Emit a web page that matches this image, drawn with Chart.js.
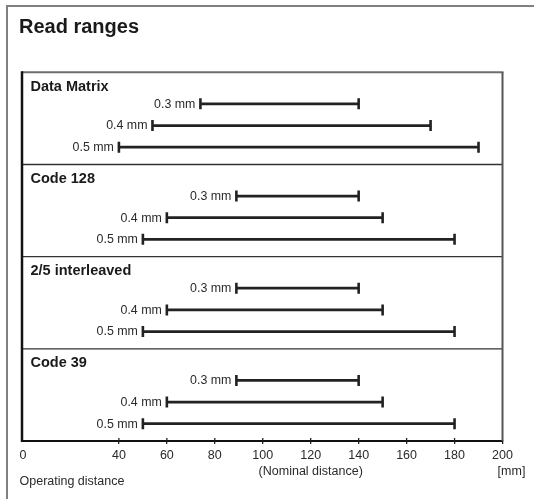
<!DOCTYPE html>
<html>
<head>
<meta charset="utf-8">
<script src="https://cdn.jsdelivr.net/npm/chart.js@4/dist/chart.umd.min.js"></script>
<style>
html,body{margin:0;padding:0;background:#fff;}
#wrap{position:relative;width:534px;height:499px;}
canvas{display:block;}
</style>
</head>
<body>
<div id="wrap"><canvas id="c" width="534" height="499" style="width:534px;height:499px"></canvas></div>
<script>
// ---- data ----
const chartTitle = 'Read ranges';
const codeNames = ['Data Matrix', 'Code 128', '2/5 interleaved', 'Code 39'];
const moduleSizes = ['0.3 mm', '0.4 mm', '0.5 mm'];
const dataMatrixMin = [74, 54, 40];
const dataMatrixMax = [140, 170, 190];
const code128Min = [89, 60, 50];
const code128Max = [140, 150, 180];
const interleaved25Min = [89, 60, 50];
const interleaved25Max = [140, 150, 180];
const code39Min = [89, 60, 50];
const code39Max = [140, 150, 180];
const xTickValues = [0, 40, 60, 80, 100, 120, 140, 160, 180, 200];
const xAxisCaption = 'Operating distance';
const xAxisNote = '(Nominal distance)';
const xAxisUnit = '[mm]';

const mins = [dataMatrixMin, code128Min, interleaved25Min, code39Min];
const maxs = [dataMatrixMax, code128Max, interleaved25Max, code39Max];

const FONT = '"Liberation Sans", Arial, Helvetica, sans-serif';
const INK = '#222';

// y layout: each code group occupies 4 units (title row + 3 ranges)
function rowY(group, row) { return group * 4 + 1.37 + row * 0.94; }
function titleY(group) { return group * 4 + 0.62; }

const datasets = [];
codeNames.forEach((name, g) => {
  moduleSizes.forEach((ms, r) => {
    datasets.push({
      label: name + ' ' + ms,
      sizeLabel: ms,
      data: [{x: mins[g][r], y: rowY(g, r)}, {x: maxs[g][r], y: rowY(g, r)}],
      borderColor: INK,
      borderWidth: 2.7,
      pointStyle: 'line',
      rotation: 90,
      pointRadius: 5.5,
      pointHoverRadius: 5.5,
      pointBorderWidth: 2.6,
      pointBorderColor: INK,
      pointBackgroundColor: INK,
      showLine: true,
      tension: 0
    });
  });
});

const decor = {
  id: 'decor',
  beforeDraw(chart) {
    const c = chart.ctx;
    c.save();
    c.fillStyle = '#fff';
    c.fillRect(0, 0, chart.width, chart.height);
    // outer frame (top + left)
    c.strokeStyle = '#808080';
    c.lineWidth = 2;
    c.beginPath();
    c.moveTo(7, 499); c.lineTo(7, 6); c.lineTo(534, 6);
    c.stroke();
    // title
    c.fillStyle = '#1a1a1a';
    c.font = 'bold 20px ' + FONT;
    c.textAlign = 'left';
    c.textBaseline = 'middle';
    c.fillText(chartTitle, 19, 27);
    c.restore();
  },
  beforeDatasetsDraw(chart) {
    const c = chart.ctx, a = chart.chartArea, y = chart.scales.y;
    c.save();
    c.strokeStyle = '#333';
    c.lineWidth = 1.3;
    for (let g = 1; g < codeNames.length; g++) {
      const py = y.getPixelForValue(g * 4);
      c.beginPath(); c.moveTo(a.left, py); c.lineTo(a.right, py); c.stroke();
    }
    c.restore();
  },
  afterDraw(chart) {
    const c = chart.ctx, a = chart.chartArea, x = chart.scales.x, y = chart.scales.y;
    c.save();
    // frame
    c.strokeStyle = '#6e6e6e';
    c.lineWidth = 2;
    c.beginPath(); c.moveTo(a.left - 1, a.top); c.lineTo(a.right + 1, a.top); c.stroke();
    c.strokeStyle = '#555';
    c.beginPath(); c.moveTo(a.right, a.top); c.lineTo(a.right, a.bottom); c.stroke();
    c.strokeStyle = '#111';
    c.lineWidth = 2.5;
    c.beginPath(); c.moveTo(a.left - 1, a.top - 1); c.lineTo(a.left - 1, a.bottom + 1); c.stroke();
    // tick marks crossing above axis
    c.lineWidth = 1.3;
    c.strokeStyle = INK;
    xTickValues.forEach(v => {
      if (v === 0 || v === 200) return;
      const px = x.getPixelForValue(v);
      c.beginPath(); c.moveTo(px, a.bottom - 3); c.lineTo(px, a.bottom); c.stroke();
    });
    // group titles
    c.fillStyle = '#1a1a1a';
    c.font = 'bold 14.5px ' + FONT;
    c.textAlign = 'left';
    c.textBaseline = 'middle';
    codeNames.forEach((n, g) => c.fillText(n, 30.5, y.getPixelForValue(titleY(g))));
    // range labels
    c.fillStyle = '#2a2a2a';
    c.font = '12.4px ' + FONT;
    c.textAlign = 'right';
    chart.data.datasets.forEach(ds => {
      const p = ds.data[0];
      c.fillText(ds.sizeLabel, x.getPixelForValue(p.x) - 5, y.getPixelForValue(p.y) + 0.5);
    });
    // axis captions
    c.font = '12.5px ' + FONT;
    c.fillStyle = '#2a2a2a';
    c.textAlign = 'left';
    c.fillText(xAxisCaption, 19.5, 482);
    c.textAlign = 'center';
    c.fillText(xAxisNote, x.getPixelForValue(120), 472);
    c.fillText(xAxisUnit, 511.5, 472);
    c.restore();
  }
};

new Chart(document.getElementById('c'), {
  type: 'scatter',
  data: { datasets },
  options: {
    responsive: false,
    animation: false,
    events: [],
    layout: { padding: { left: 23, right: 31.5, top: 72.3, bottom: 0 } },
    plugins: { legend: { display: false }, tooltip: { enabled: false }, title: { display: false } },
    scales: {
      x: {
        type: 'linear',
        min: 0, max: 200,
        afterBuildTicks: s => { s.ticks = xTickValues.map(v => ({ value: v })); },
        afterFit: s => { s.height = 58; },
        grid: {
          drawOnChartArea: false,
          drawTicks: true,
          tickLength: 3,
          lineWidth: 1.3,
          color: ctx => (ctx.tick && ctx.tick.value === 0) ? 'rgba(0,0,0,0)' : INK
        },
        border: { display: true, color: '#111', width: 2 },
        ticks: {
          autoSkip: false,
          maxRotation: 0,
          padding: 4,
          color: '#2a2a2a',
          font: { family: FONT, size: 12.5 },
          callback: v => String(v)
        }
      },
      y: {
        type: 'linear',
        min: 0, max: 16,
        reverse: true,
        display: false
      }
    }
  },
  plugins: [decor]
});
</script>
</body>
</html>
